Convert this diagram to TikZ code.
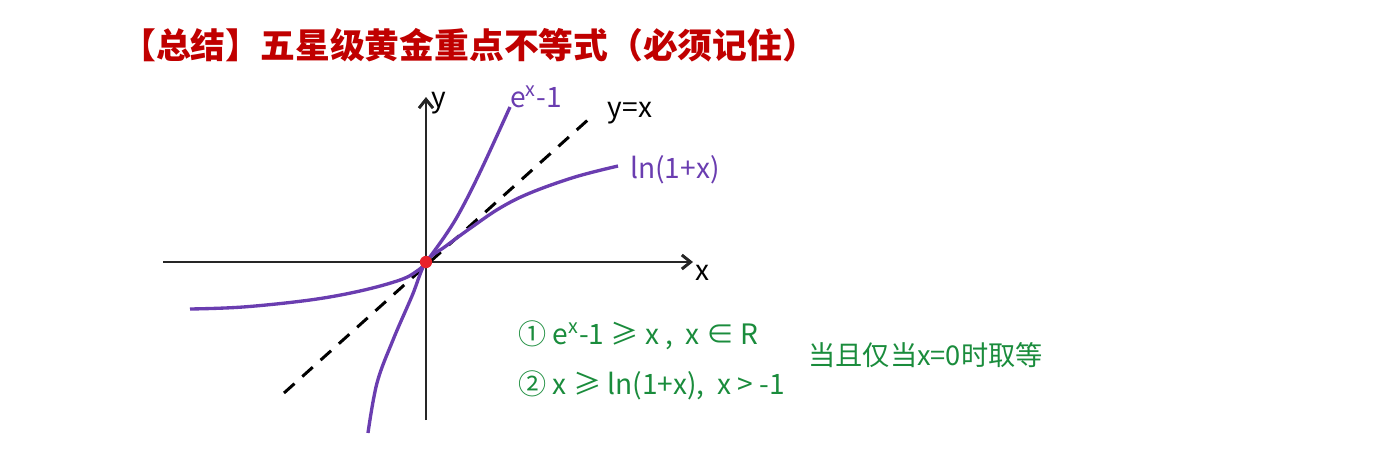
\documentclass[tikz,border=0pt]{standalone}
\usepackage{fontspec}
\usetikzlibrary{arrows.meta}
\newfontfamily\cjk{Noto Sans CJK SC}
\definecolor{titlered}{HTML}{C00000}
\definecolor{curvepurple}{HTML}{6A3DB0}
\definecolor{notegreen}{HTML}{1A8C3C}
\definecolor{dotred}{HTML}{E8202A}
\definecolor{axisgray}{HTML}{262626}

\begin{document}
\begin{tikzpicture}[x=0.02cm,y=-0.02cm,
                    axis/.style={draw=axisgray,line width=1.7pt,-{Straight Barb[length=5pt,width=8pt]}},
                    curve/.style={draw=curvepurple,line width=1.9pt,smooth,tension=0.6},
                    hand/.style={font=\cjk\fontsize{16}{18}\selectfont,inner sep=0pt},
                    note/.style={hand,text=notegreen,anchor=west}]
  \useasboundingbox (0,0) rectangle (1384,457);
  % title
  \node[font=\cjk\bfseries\fontsize{19.8}{22}\selectfont,text=titlered,anchor=west,inner sep=0pt] (title) at (121,45) {【总结】五星级黄金重点不等式（必须记住）};
  % axes
  \coordinate (xl) at (163,262);
  \coordinate (xr) at (693,262);
  \coordinate (yb) at (426,420);
  \coordinate (yt) at (426,97);
  \draw[axis] (xl) -- (xr);
  \draw[axis] (yb) -- (yt);
  \node[hand,text=black] (xlab) at (702,273) {x};
  \node[hand,text=black] (ylab) at (439,103) {y};
  % y = x
  \coordinate (dl) at (284,393);
  \coordinate (du) at (590,118);
  \draw[black,line width=1.7pt,dash pattern=on 8pt off 6pt] (dl) -- (du);
  \node[hand,text=black] (idlab) at (630,113) {y=x};
  % e^x - 1
  \draw[curve] plot coordinates {(190,309) (243,307) (310,300) (360,291) (400,280) (417,271) (426,262) (447,233) (462,208) (482,168) (510,107)};
  \node[hand,text=curvepurple] (explab) at (536,97) {e\textsuperscript{x}-1};
  % ln(1+x)
  \draw[curve] plot coordinates {(368,433) (377,383) (393,340) (412,296) (426,262) (446,246) (472,227) (500,208) (530,193) (575,177) (618,166)};
  \node[hand,text=curvepurple] (lnlab) at (675,170) {ln(1+x)};
  % origin
  \node[circle,fill=dotred,inner sep=0pt,minimum size=7pt] (o) at (426,262) {};
  % notes
  \node[note] (n1) at (518,335) {① e\textsuperscript{x}-1 ≥ x ,\ \ x ∈ R};
  \node[note] (n2) at (518,385) {② x ≥ ln(1+x),\ \ x > -1};
  \node[note,font=\cjk\fontsize{15.5}{18}\selectfont] (n3) at (808,355) {当且仅当x=0时取等};
\end{tikzpicture}
\end{document}
